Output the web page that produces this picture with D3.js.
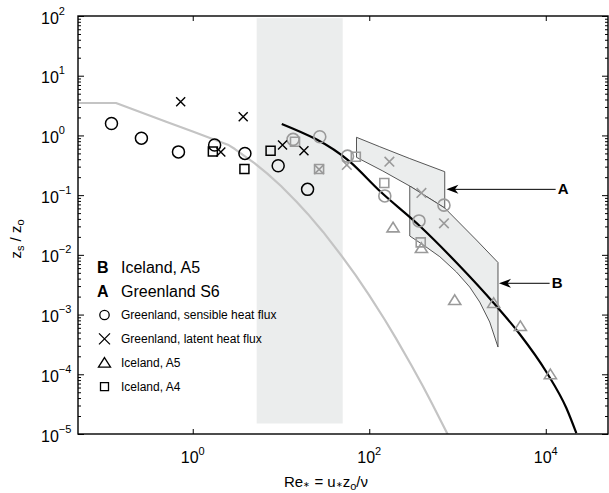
<!DOCTYPE html>
<html>
<head>
<meta charset="utf-8">
<script src="https://cdn.jsdelivr.net/npm/d3@7"></script>
<style>
body { margin: 0; background: #fff; }
svg { display: block; font-family: "Liberation Sans", Arial, sans-serif; }
</style>
</head>
<body>
<div id="chart"></div>
<script>
// ---- data ----
// axis ticks
const xTicks = [1, 100, 10000];
const xTickExp = ["0", "2", "4"];
const yTicks = [1e-5, 1e-4, 1e-3, 1e-2, 1e-1, 1, 10, 100];
const yTickExp = ["\u22125", "\u22124", "\u22123", "\u22122", "\u22121", "0", "1", "2"];

// shaded Re* range (vertical band)
const bandRe = [5.3, 50];
const bandZ = [1.5e-5, 92];

// model curves [Re*, zs/z0]
const greyCurve = [[0.05, 3.49], [0.135, 3.49], [0.5, 1.70], [1, 1.16], [2.5, 0.70], [3, 0.592],
    [5, 0.344], [7, 0.229], [10, 0.142], [15, 0.0777], [20, 0.049], [30, 0.0242], [50, 0.0091],
    [70, 0.00458], [100, 0.0021], [150, 8.18e-4], [200, 4.04e-4], [300, 1.42e-4], [400, 6.53e-5],
    [500, 3.49e-5], [650, 1.64e-5], [770, 1.0e-5], [900, 6.0e-6]];
const blackCurve = [[10.2, 1.556], [60.2, 0.363], [131.6, 0.117], [373.5, 0.0304], [1059, 0.0065],
    [2570, 0.00156], [5060, 4.72e-4], [10160, 1.09e-4], [17100, 2.72e-5], [22200, 1.03e-5]];

// uncertainty regions A and B (outline, clockwise)
const regionA = [[71.7, 0.930], [131.6, 0.647], [287.7, 0.410], [716.5, 0.247], [716.5, 0.0609],
    [287.7, 0.142], [142.3, 0.254], [71.7, 0.430]];
const regionB = [[287.7, 0.142], [716.5, 0.0609], [1637, 0.01772], [2874, 0.00745], [2874, 2.86e-4],
    [2317, 7.5e-4], [1785, 0.00162], [1375, 0.00289], [972, 0.00516], [631, 0.0093], [425.5, 0.01406],
    [287.7, 0.0207]];

// arrows pointing at the regions: [from Re*, to Re*, zs/z0], label
const arrows = [
    { label: "A", x1: 12940, x2: 748, y: 0.125 },
    { label: "B", x1: 11060, x2: 2951, y: 0.00334 }
];

// measurements
const greenSensible = [[0.120, 1.58], [0.262, 0.90], [0.689, 0.53], [1.77, 0.69], [3.90, 0.50], [9.29, 0.31], [20.0, 0.125]];
const greenLatent = [[0.73, 3.67], [2.08, 0.53], [3.73, 2.05], [10.4, 0.69], [18.2, 0.555]];
const icelandA4 = [[1.69, 0.54], [3.85, 0.274], [7.62, 0.555]];
const greyCircles = [[13.7, 0.86], [27.5, 0.95], [56.7, 0.45], [150, 0.097], [366, 0.037], [702, 0.068]];
const greyCrosses = [[27.0, 0.27], [55.7, 0.32], [169, 0.363], [390, 0.109], [702, 0.0337]];
const greySquares = [[14.4, 0.785], [27.0, 0.274], [70.4, 0.44], [148, 0.16], [383, 0.0162]];
const greyTriangles = [[186, 0.0287], [390, 0.013], [930, 0.00175], [2570, 0.00156], [5150, 6.4e-4], [11270, 1.0e-4]];

// legend
const legendLetters = [["B", "Iceland, A5"], ["A", "Greenland S6"]];
const legendSymbols = [["circle", "Greenland, sensible heat flux"], ["cross", "Greenland, latent heat flux"],
    ["triangle", "Iceland, A5"], ["square", "Iceland, A4"]];

// ---- layout ----
const W = 609, H = 493;
const plot = { left: 78, right: 608, top: 16, bottom: 434 };

const svg = d3.select("#chart").append("svg")
    .attr("width", W)
    .attr("height", H);

const x = d3.scaleLog().domain([0.0501, 50700]).range([plot.left, plot.right]);
const y = d3.scaleLog().domain([1e-5, 100]).range([plot.bottom, plot.top]);

svg.append("clipPath").attr("id", "clip")
    .append("rect")
    .attr("x", plot.left).attr("y", plot.top)
    .attr("width", plot.right - plot.left).attr("height", plot.bottom - plot.top);

const g = svg.append("g").attr("clip-path", "url(#clip)");

// vertical shaded band
g.append("rect")
    .attr("x", x(bandRe[0]))
    .attr("y", y(bandZ[1]))
    .attr("width", x(bandRe[1]) - x(bandRe[0]))
    .attr("height", y(bandZ[0]) - y(bandZ[1]))
    .attr("fill", "#ebeded");

const line = d3.line()
    .x(d => x(d[0]))
    .y(d => y(d[1]))
    .curve(d3.curveMonotoneX);

// grey model curve (sharp corner at the smooth/transitional limit)
g.append("path")
    .datum(greyCurve)
    .attr("d", d3.line().x(d => x(d[0])).y(d => y(d[1])))
    .attr("fill", "none")
    .attr("stroke", "#c4c4c4")
    .attr("stroke-width", 2.2)
    .attr("stroke-linejoin", "round");

// regions A and B
const poly = d3.line().x(d => x(d[0])).y(d => y(d[1]));
[regionA, regionB].forEach(r => {
    g.append("path")
        .attr("d", poly(r) + "Z")
        .attr("fill", "#ebeded")
        .attr("stroke", "#444")
        .attr("stroke-width", 0.9);
});

// black curve
g.append("path")
    .datum(blackCurve)
    .attr("d", line)
    .attr("fill", "none")
    .attr("stroke", "#000")
    .attr("stroke-width", 2.2);

// marker shapes
function marker(type, s) {
    if (type === "circle") return circlePath(s);
    if (type === "cross") return `M${-s},${-s}L${s},${s}M${-s},${s}L${s},${-s}`;
    if (type === "square") return `M${-s},${-s}H${s}V${s}H${-s}Z`;
    if (type === "triangle") return `M0,${-s * 0.95}L${s * 1.1},${s * 0.8}L${-s * 1.1},${s * 0.8}Z`;
}
function circlePath(r) {
    return `M${r},0A${r},${r} 0 1,1 ${-r},0A${r},${r} 0 1,1 ${r},0Z`;
}

function drawMarkers(data, type, size, color, width) {
    g.selectAll(null)
        .data(data)
        .enter()
        .append("path")
        .attr("transform", d => `translate(${x(d[0])},${y(d[1])})`)
        .attr("d", marker(type, size))
        .attr("fill", "none")
        .attr("stroke", color)
        .attr("stroke-width", width);
}

const grey = "#9a9a9a";
drawMarkers(greyCircles, "circle", 6, grey, 1.6);
drawMarkers(greySquares, "square", 4.5, grey, 1.6);
drawMarkers(greyCrosses, "cross", 4.8, grey, 1.6);
drawMarkers(greyTriangles, "triangle", 5.5, grey, 1.6);
drawMarkers(greenSensible, "circle", 6, "#000", 1.5);
drawMarkers(icelandA4, "square", 4.5, "#000", 1.5);
drawMarkers(greenLatent, "cross", 4.5, "#000", 1.4);

// arrows with labels
arrows.forEach(a => {
    const x1 = x(a.x1), x2 = x(a.x2), yy = y(a.y);
    svg.append("line")
        .attr("x1", x1).attr("x2", x2 + 6)
        .attr("y1", yy).attr("y2", yy)
        .attr("stroke", "#000")
        .attr("stroke-width", 1);
    svg.append("path")
        .attr("d", `M${x2},${yy}L${x2 + 12},${yy - 4.5}L${x2 + 8.5},${yy}L${x2 + 12},${yy + 4.5}Z`)
        .attr("fill", "#000");
    svg.append("text")
        .attr("x", x1 + 2)
        .attr("y", yy + 5)
        .attr("font-size", 15)
        .attr("font-weight", "bold")
        .text(a.label);
});

// ---- axes ----
function axisGroup(axis, tx, ty) {
    const ax = svg.append("g")
        .attr("transform", `translate(${tx},${ty})`)
        .call(axis);
    ax.select(".domain").remove();
    ax.selectAll("line").attr("stroke", "#000").attr("stroke-width", 1);
    return ax;
}
const yMinor = y.ticks().filter(v => !yTicks.some(t => Math.abs(v / t - 1) < 1e-6));

axisGroup(d3.axisBottom(x).tickValues(xTicks).tickSize(-5).tickFormat(""), 0, plot.bottom);
axisGroup(d3.axisTop(x).tickValues(xTicks).tickSize(-5).tickFormat(""), 0, plot.top);
axisGroup(d3.axisLeft(y).tickValues(yTicks).tickSize(-6).tickFormat(""), plot.left, 0);
axisGroup(d3.axisLeft(y).tickValues(yMinor).tickSize(-3).tickFormat(""), plot.left, 0);
axisGroup(d3.axisRight(y).tickValues(yTicks).tickSize(-6).tickFormat(""), plot.right, 0);
axisGroup(d3.axisRight(y).tickValues(yMinor).tickSize(-3).tickFormat(""), plot.right, 0);

// frame
svg.append("rect")
    .attr("x", plot.left).attr("y", plot.top)
    .attr("width", plot.right - plot.left).attr("height", plot.bottom - plot.top)
    .attr("fill", "none")
    .attr("stroke", "#000")
    .attr("stroke-width", 1.4);

// tick labels with exponents
xTicks.forEach((t, i) => {
    const lab = svg.append("text")
        .attr("x", x(t))
        .attr("y", 463)
        .attr("text-anchor", "middle")
        .attr("font-size", 16);
    lab.append("tspan").text("10");
    lab.append("tspan").attr("dy", -8).attr("font-size", 11).text(xTickExp[i]);
});
yTicks.forEach((t, i) => {
    const lab = svg.append("text")
        .attr("x", 41)
        .attr("y", y(t) + 7.5)
        .attr("font-size", 16);
    lab.append("tspan").text("10");
    lab.append("tspan").attr("dy", -9).attr("font-size", 11).text(yTickExp[i]);
});

// axis titles
const xt = svg.append("text")
    .attr("x", 326)
    .attr("y", 487)
    .attr("text-anchor", "middle")
    .attr("font-size", 15);
xt.append("tspan").text("Re");
xt.append("tspan").attr("font-size", 8).attr("dy", 0).text("\u2217");
xt.append("tspan").text(" = u");
xt.append("tspan").attr("font-size", 8).text("\u2217");
xt.append("tspan").text("z");
xt.append("tspan").attr("font-size", 11).attr("dy", 3).text("o");
xt.append("tspan").attr("dy", -3).text("/\u03bd");

const yt = svg.append("text")
    .attr("transform", "translate(21,239) rotate(-90)")
    .attr("text-anchor", "middle")
    .attr("font-size", 15);
yt.append("tspan").text("z");
yt.append("tspan").attr("font-size", 11).attr("dy", 3).text("s");
yt.append("tspan").attr("dy", -3).text(" / z");
yt.append("tspan").attr("font-size", 11).attr("dy", 3).text("o");

// ---- legend ----
legendLetters.forEach((d, i) => {
    const yy = 273 + i * 24.4;
    svg.append("text")
        .attr("x", 97).attr("y", yy)
        .attr("font-size", 16).attr("font-weight", "bold")
        .text(d[0]);
    svg.append("text")
        .attr("x", 121).attr("y", yy)
        .attr("font-size", 16)
        .text(d[1]);
});
const legSize = { circle: 4.7, cross: 5.5, triangle: 5.5, square: 4 };
legendSymbols.forEach((d, i) => {
    const yy = 315 + i * 23.9;
    svg.append("path")
        .attr("transform", `translate(104.5,${yy})`)
        .attr("d", marker(d[0], legSize[d[0]]))
        .attr("fill", "none")
        .attr("stroke", "#000")
        .attr("stroke-width", 1.3);
    svg.append("text")
        .attr("x", 121).attr("y", yy + 4.3)
        .attr("font-size", 12)
        .text(d[1]);
});
</script>
</body>
</html>
